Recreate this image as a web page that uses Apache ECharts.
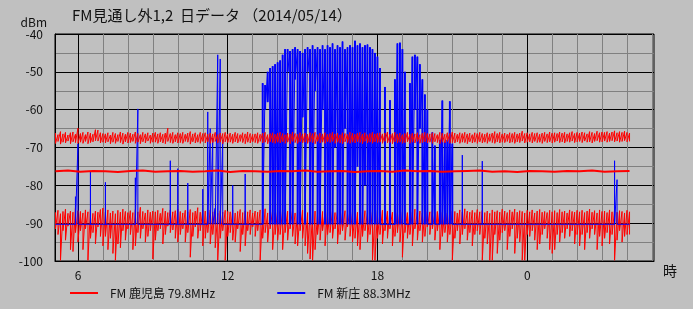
<!DOCTYPE html>
<html><head><meta charset="utf-8">
<script src="https://cdn.jsdelivr.net/npm/echarts@6/dist/echarts.min.js"></script>
<style>html,body{margin:0;padding:0;background:#c0c0c0;}#c{width:693px;height:309px;}</style>
</head><body><div id="c"></div>
<script>
// sampling grid (hours; values past 24 are the next day)
const startHour = 5.1, stepHour = 0.1;
const midStartHour = 5.1, midStepHour = 0.5;
const xLabelHours = [6, 12, 18, 24];
const xGridHours = [6,7,8,9,10,11,12,13,14,15,16,17,18,19,20,21,22,23,24,25,26,27,28,29];
const seriesNames = ['FM 鹿児島 79.8MHz', 'FM 新庄 88.3MHz'];
// strong-reception period of FM 新庄 (hours): fast fading, drawn as filled min-max columns
const denseFromHour = 13.4, denseToHour = 21.0;

// FM 鹿児島 upper band (max / min per sample)
const redTopHi = [
-66.2,-66.6,-65.8,-66.4,-66.0,-66.7,-66.1,-65.9,-66.5,-64.9,
-66.3,-66.0,-66.6,-65.9,-66.2,-66.5,-65.3,-65.4,-66.1,-66.3,
-66.4,-66.1,-66.7,-66.0,-66.3,-66.6,-65.9,-66.2,-66.5,-66.0,
-66.2,-66.5,-65.9,-66.3,-66.6,-66.0,-66.4,-66.1,-66.7,-66.2,
-66.0,-66.4,-66.1,-66.5,-66.2,-64.9,-66.3,-66.0,-66.6,-66.1,
-66.3,-66.0,-66.5,-66.2,-65.8,-66.4,-66.1,-66.6,-66.0,-66.3,
-66.1,-66.5,-66.2,-66.4,-66.0,-66.6,-66.2,-66.3,-66.0,-66.4,
-66.2,-66.5,-66.0,-66.3,-66.6,-66.1,-66.4,-65.9,-66.3,-66.5,
-66.4,-66.1,-66.5,-66.2,-66.0,-66.6,-66.3,-66.1,-66.5,-66.2,
-66.0,-66.3,-66.6,-66.2,-66.4,-65.9,-66.3,-66.5,-66.1,-66.4,
-66.2,-66.5,-66.1,-66.3,-66.0,-66.6,-66.2,-66.4,-66.1,-66.5,
-66.3,-66.0,-66.4,-66.2,-66.6,-66.1,-66.3,-66.5,-66.0,-66.2,
-66.5,-66.2,-66.0,-66.4,-66.1,-66.6,-66.3,-66.0,-66.4,-66.2,
-66.1,-66.4,-66.2,-65.9,-66.5,-66.3,-66.0,-66.4,-66.2,-66.6,
-66.3,-66.0,-66.5,-66.2,-66.4,-66.1,-66.6,-66.2,-66.0,-66.3,
-66.4,-66.1,-66.3,-66.6,-66.0,-66.2,-66.5,-66.1,-66.3,-65.9,
-66.2,-66.5,-66.1,-66.3,-66.0,-66.4,-66.2,-66.6,-66.1,-66.3,
-66.0,-66.3,-66.5,-66.1,-66.4,-66.2,-65.8,-66.3,-66.0,-66.4,
-66.2,-66.5,-66.1,-66.3,-66.0,-66.4,-66.2,-65.7,-66.3,-66.1,
-66.4,-66.0,-66.3,-66.1,-66.5,-66.2,-66.0,-66.4,-65.9,-66.2,
-66.1,-66.3,-65.9,-66.2,-66.0,-66.4,-66.1,-65.8,-66.3,-66.0,
-66.2,-65.9,-66.1,-66.4,-65.8,-66.0,-66.3,-65.7,-66.1,-65.9,
-66.0,-65.8,-66.2,-65.9,-65.6,-66.1,-65.8,-66.0,-65.7,-66.0,
-66.2];
const redTopLo = [
-68.9,-68.4,-69.1,-68.6,-68.8,-68.3,-69.0,-68.5,-68.7,-68.9,
-68.6,-68.9,-68.4,-69.0,-68.7,-68.5,-68.2,-68.3,-68.8,-68.6,
-68.8,-68.5,-69.0,-68.6,-68.9,-68.4,-68.7,-69.1,-68.5,-68.8,
-68.7,-68.4,-68.9,-68.6,-69.0,-68.5,-68.8,-68.3,-68.9,-68.6,
-68.6,-68.9,-68.5,-68.8,-69.0,-68.4,-68.7,-68.9,-68.5,-68.8,
-68.7,-68.9,-68.4,-68.6,-69.1,-68.5,-68.8,-68.6,-68.9,-68.4,
-68.8,-68.5,-68.9,-68.7,-68.4,-68.8,-68.6,-69.0,-68.5,-68.7,
-68.6,-68.9,-68.5,-68.8,-68.4,-68.7,-69.0,-68.6,-68.8,-68.5,
-68.7,-68.9,-68.4,-68.8,-68.6,-69.0,-68.5,-68.7,-68.9,-68.6,
-68.8,-68.5,-68.9,-68.6,-69.0,-68.4,-68.7,-68.9,-68.5,-68.8,
-68.6,-68.9,-68.5,-68.7,-69.0,-68.4,-68.8,-68.6,-68.9,-68.5,
-68.7,-68.4,-68.9,-68.6,-68.8,-69.0,-68.5,-68.7,-68.9,-68.6,
-68.8,-68.5,-68.7,-69.0,-68.4,-68.8,-68.6,-68.9,-68.5,-68.7,
-68.6,-68.9,-68.4,-68.8,-68.7,-69.0,-68.5,-68.8,-68.6,-68.9,
-68.7,-68.5,-68.9,-68.6,-68.8,-68.4,-68.9,-68.7,-68.5,-68.8,
-68.6,-68.9,-68.5,-68.7,-69.0,-68.6,-68.8,-68.4,-68.9,-68.7,
-68.8,-68.5,-68.9,-68.6,-68.7,-69.0,-68.5,-68.8,-68.6,-68.9,
-68.5,-68.8,-68.6,-68.9,-68.4,-68.7,-68.9,-68.5,-68.8,-68.6,
-68.7,-68.4,-68.8,-68.6,-68.9,-68.5,-68.7,-68.3,-68.8,-68.6,
-68.5,-68.8,-68.4,-68.7,-68.6,-68.9,-68.4,-68.7,-68.5,-68.8,
-68.6,-68.3,-68.7,-68.5,-68.8,-68.4,-68.6,-68.3,-68.7,-68.5,
-68.4,-68.7,-68.3,-68.6,-68.5,-68.8,-68.4,-68.2,-68.6,-68.5,
-68.3,-68.6,-68.4,-68.2,-68.5,-68.3,-68.6,-68.4,-68.2,-68.5,
-68.4];

// FM 鹿児島 middle trace (every 0.5 h)
const redMid = [
-76.3,-76.1,-76.4,-76.2,-76.3,-76.5,-76.2,-76.1,-76.4,-76.3,
-76.2,-76.4,-76.3,-76.1,-76.5,-76.2,-76.3,-76.4,-76.2,-76.3,
-76.1,-76.4,-76.3,-76.2,-76.5,-76.3,-76.2,-76.4,-76.1,-76.3,
-76.2,-76.4,-76.3,-76.2,-76.1,-76.4,-76.3,-76.5,-76.2,-76.3,
-76.4,-76.2,-76.3,-76.1,-76.4,-76.3,-76.2];

// FM 鹿児島 lower band (max / min per sample)
const redBotHi = [
-87.2,-86.6,-87.5,-86.9,-86.3,-87.4,-86.8,-87.1,-85.9,-86.7,
-86.9,-87.3,-86.5,-87.0,-86.2,-87.4,-86.8,-87.1,-86.4,-86.0,
-87.0,-86.5,-87.3,-86.8,-87.5,-86.6,-87.1,-86.3,-86.9,-87.2,
-86.7,-87.2,-86.4,-87.0,-85.8,-86.9,-87.3,-86.5,-87.1,-86.8,
-87.0,-86.6,-87.4,-86.1,-86.8,-87.2,-86.5,-87.0,-86.7,-86.3,
-86.9,-87.3,-86.6,-87.0,-86.4,-87.2,-86.8,-85.9,-87.1,-86.5,
-86.8,-87.2,-86.5,-87.0,-86.3,-87.4,-86.7,-87.1,-86.6,-86.9,
-87.0,-86.6,-87.3,-86.9,-86.4,-87.2,-86.7,-87.0,-86.5,-87.3,
-86.8,-87.1,-86.5,-87.0,-86.2,-87.3,-86.9,-86.6,-87.2,-86.7,
-86.9,-86.5,-87.2,-86.8,-87.0,-86.4,-87.3,-86.7,-87.1,-86.6,
-86.7,-87.2,-86.5,-87.0,-86.8,-87.3,-86.4,-86.9,-87.1,-86.6,
-87.0,-86.6,-87.2,-86.8,-86.3,-87.1,-86.7,-87.3,-86.5,-86.9,
-86.8,-87.1,-86.5,-87.0,-86.7,-87.2,-86.4,-86.9,-87.3,-86.6,
-87.0,-86.6,-87.3,-86.8,-86.4,-87.1,-86.9,-87.2,-86.5,-87.0,
-86.7,-87.2,-86.5,-87.0,-86.3,-87.1,-86.8,-87.3,-86.6,-86.9,
-87.0,-86.6,-87.2,-86.9,-86.4,-87.1,-86.7,-87.3,-86.5,-86.8,
-86.9,-87.3,-86.5,-87.0,-86.2,-86.8,-87.1,-86.6,-87.2,-86.4,
-87.0,-86.6,-87.2,-86.8,-87.4,-86.5,-87.0,-86.7,-87.1,-86.3,
-86.8,-87.2,-86.5,-87.0,-86.3,-87.1,-86.7,-86.9,-87.3,-86.6,
-87.0,-86.5,-87.3,-86.8,-86.4,-87.1,-86.9,-87.2,-86.6,-87.0,
-86.7,-87.2,-86.4,-87.0,-86.8,-87.3,-86.5,-86.9,-87.1,-86.6,
-87.0,-86.6,-87.2,-86.8,-86.3,-87.1,-86.7,-87.3,-86.5,-86.9,
-86.8,-87.2,-86.5,-87.0,-86.4,-87.1,-86.7,-86.9,-87.3,-86.6,
-87.0];
const redBotLo = [
-91.5,-93.0,-99.8,-92.0,-94.5,-90.8,-97.0,-97.5,-92.5,-95.0,
-92.0,-97.0,-91.5,-99.8,-94.0,-92.5,-95.5,-91.0,-93.5,-96.0,
-93.5,-97.0,-94.0,-98.0,-99.8,-95.5,-96.5,-92.0,-94.5,-91.5,
-93.0,-97.0,-96.0,-92.5,-94.0,-91.5,-95.0,-93.5,-92.0,-99.5,
-94.5,-92.0,-91.5,-95.5,-93.0,-90.8,-92.5,-91.8,-94.0,-95.0,
-93.0,-91.5,-95.0,-92.5,-99.0,-93.5,-91.0,-94.0,-92.0,-96.0,
-94.0,-92.5,-95.5,-93.0,-96.5,-99.8,-94.0,-92.0,-99.8,-93.5,
-92.5,-94.5,-95.0,-91.5,-97.5,-93.0,-96.0,-92.0,-93.0,-91.0,
-93.5,-92.0,-99.8,-94.0,-92.5,-95.0,-91.5,-97.0,-93.0,-94.5,
-93.0,-97.0,-92.5,-94.5,-91.5,-93.5,-95.5,-96.0,-92.0,-94.0,
-96.0,-98.0,-99.5,-99.8,-97.0,-93.0,-94.5,-92.0,-96.0,-93.0,
-92.5,-94.0,-91.5,-95.5,-93.0,-92.0,-94.5,-91.0,-93.5,-95.0,
-94.0,-96.0,-97.0,-93.5,-92.0,-95.0,-93.0,-99.8,-99.8,-94.0,
-93.0,-95.5,-92.0,-94.0,-91.5,-96.0,-93.5,-92.5,-95.0,-99.0,
-92.5,-94.0,-93.0,-96.0,-91.5,-94.5,-92.0,-95.0,-93.5,-91.0,
-93.0,-91.5,-94.5,-92.0,-97.0,-93.5,-92.5,-95.0,-93.0,-99.8,
-94.0,-92.0,-95.5,-93.0,-91.5,-94.5,-92.5,-96.0,-93.0,-92.0,
-93.0,-99.8,-94.0,-95.5,-99.8,-99.8,-93.0,-98.0,-94.5,-92.5,
-92.0,-97.0,-93.5,-91.5,-98.0,-94.0,-95.0,-99.8,-99.8,-93.0,
-93.5,-92.0,-94.5,-97.0,-95.5,-93.0,-91.5,-94.0,-97.0,-98.0,
-97.0,-93.0,-95.0,-92.5,-94.0,-91.5,-93.5,-92.0,-95.5,-93.0,
-96.0,-93.0,-97.0,-92.5,-94.0,-91.5,-93.0,-97.0,-93.5,-96.0,
-94.0,-92.5,-95.5,-93.0,-99.8,-94.5,-92.0,-95.0,-93.5,-93.0,
-93.0];

// FM 新庄 (max / min per sample)
const blueHi = [
-90.3,-90.3,-90.3,-90.3,-90.3,-90.3,-90.3,-90.3,-83,-69,
-90.3,-90.3,-90.3,-90.3,-76.5,-90.3,-90.3,-90.3,-90.3,-90.3,
-79.2,-90.3,-90.3,-90.3,-90.3,-90.3,-90.3,-90.3,-90.3,-90.3,
-90.3,-90.3,-78,-59.8,-90.3,-90.3,-90.3,-90.3,-90.3,-90.3,
-90.3,-90.3,-90.3,-90.3,-90.3,-90.3,-73.5,-90.3,-90.3,-75.6,
-90.3,-90.3,-90.3,-79.4,-90.3,-90.3,-90.3,-90.3,-90.3,-81,
-90.3,-60.6,-65,-67.5,-86,-45.5,-46.6,-68,-90.3,-90.3,
-90.3,-80,-90.3,-90.3,-90.3,-90.3,-77,-90.3,-90.3,-90.3,
-90.3,-90.3,-90.3,-53,-53.5,-50,-49,-48.5,-48,-47.5,
-47,-45.5,-44,-44,-44.5,-44,-43.5,-44,-44.5,-45,
-44,-43.5,-44,-43,-44,-43.5,-44,-43,-44,-43,
-43.5,-42.5,-44,-43,-43.5,-42,-44,-43.5,-43,-43.5,
-41.8,-43,-42.5,-43.5,-43,-42.8,-43.5,-44,-45,-46,
-49,-90.3,-54,-90.3,-57.5,-90.3,-52,-42.5,-42.3,-44,
-50,-90.3,-53,-46,-45.5,-46,-48,-52,-56,-60,
-90.3,-66,-69.5,-90.3,-68,-57.6,-68.5,-68,-57.8,-69,
-90.3,-90.3,-90.3,-72,-90.3,-90.3,-90.3,-90.3,-90.3,-90.3,
-90.3,-73.6,-90.3,-90.3,-90.3,-90.3,-90.3,-90.3,-90.3,-90.3,
-90.3,-90.3,-90.3,-90.3,-90.3,-90.3,-90.3,-90.3,-90.3,-90.3,
-90.3,-90.3,-90.3,-90.3,-90.3,-90.3,-90.3,-90.3,-90.3,-90.3,
-90.3,-90.3,-90.3,-90.3,-90.3,-90.3,-90.3,-90.3,-90.3,-90.3,
-90.3,-90.3,-90.3,-90.3,-90.3,-90.3,-90.3,-90.3,-90.3,-90.3,
-90.3,-90.3,-90.3,-90.3,-73.5,-78.5,-90.3,-90.3,-90.3,-90.3,
-90.3];
const blueLo = [
-90.3,-90.3,-90.3,-90.3,-90.3,-90.3,-90.3,-90.3,-90.3,-90.3,
-90.3,-90.3,-90.3,-90.3,-90.3,-90.3,-90.3,-90.3,-90.3,-90.3,
-90.3,-90.3,-90.3,-90.3,-90.3,-90.3,-90.3,-90.3,-90.3,-90.3,
-90.3,-90.3,-90.3,-90.3,-90.3,-90.3,-90.3,-90.3,-90.3,-90.3,
-90.3,-90.3,-90.3,-90.3,-90.3,-90.3,-90.3,-90.3,-90.3,-90.3,
-90.3,-90.3,-90.3,-90.3,-90.3,-90.3,-90.3,-90.3,-90.3,-90.3,
-90.3,-90.3,-90.3,-90.3,-90.3,-90.3,-90.3,-90.3,-90.3,-90.3,
-90.3,-90.3,-90.3,-90.3,-90.3,-90.3,-90.3,-90.3,-90.3,-90.3,
-90.3,-90.3,-90.3,-90.3,-60,-58,-90.3,-90.3,-90.3,-90.3,
-90.3,-90.3,-90.3,-50,-90.3,-90.3,-52,-90.3,-90.3,-62,
-90.3,-50,-90.3,-90.3,-55,-90.3,-90.3,-60,-90.3,-90.3,
-90.3,-90.3,-70,-90.3,-90.3,-90.3,-65,-90.3,-90.3,-90.3,
-90.3,-75,-90.3,-90.3,-80,-90.3,-90.3,-90.3,-90.3,-90.3,
-90.3,-90.3,-90.3,-90.3,-90.3,-90.3,-90.3,-90.3,-90.3,-90.3,
-90.3,-90.3,-90.3,-90.3,-60,-90.3,-65,-90.3,-90.3,-90.3,
-90.3,-90.3,-90.3,-90.3,-90.3,-90.3,-90.3,-90.3,-90.3,-90.3,
-90.3,-90.3,-90.3,-90.3,-90.3,-90.3,-90.3,-90.3,-90.3,-90.3,
-90.3,-90.3,-90.3,-90.3,-90.3,-90.3,-90.3,-90.3,-90.3,-90.3,
-90.3,-90.3,-90.3,-90.3,-90.3,-90.3,-90.3,-90.3,-90.3,-90.3,
-90.3,-90.3,-90.3,-90.3,-90.3,-90.3,-90.3,-90.3,-90.3,-90.3,
-90.3,-90.3,-90.3,-90.3,-90.3,-90.3,-90.3,-90.3,-90.3,-90.3,
-90.3,-90.3,-90.3,-90.3,-90.3,-90.3,-90.3,-90.3,-90.3,-90.3,
-90.3,-90.3,-90.3,-90.3,-90.3,-90.3,-90.3,-90.3,-90.3,-90.3,
-90.3];

// min/max envelope polyline (zig-zag max -> min -> next max ...)
function envelope(hi, lo, t0, dt) {
  const out = [];
  for (let i = 0; i < hi.length; i++) {
    const t = +(t0 + i * dt).toFixed(3);
    const flat = hi[i] === lo[i];
    const prevFlat = i === 0 || hi[i - 1] === lo[i - 1];
    if (!flat && prevFlat) out.push([t, lo[i]]);
    out.push([t, hi[i]]);
    if (!flat) out.push([t, lo[i]]);
  }
  return out;
}
// [t, min, max] rows for the filled columns of the fast-fading span
function columns(hi, lo, t0, dt, fromH, toH) {
  const out = [];
  for (let i = 0; i < hi.length; i++) {
    const t = +(t0 + i * dt).toFixed(3);
    if (t >= fromH - 1e-6 && t <= toH + 1e-6 && hi[i] !== lo[i]) out.push([t, lo[i], hi[i]]);
  }
  return out;
}
function simple(vals, t0, dt) {
  return vals.map((v, i) => [+(t0 + i * dt).toFixed(3), v]);
}

const FONT = '"Noto Sans CJK JP", "DejaVu Sans", sans-serif';
const chart = echarts.init(document.getElementById('c'), null, {renderer: 'canvas'});
const lineS = (name, z, data, color, width) => ({
  name, type: 'line', z, showSymbol: false, silent: true, data,
  itemStyle: {color}, lineStyle: {color, width}
});
chart.setOption({
  backgroundColor: '#c0c0c0',
  animation: false,
  textStyle: {fontFamily: FONT},
  title: {
    text: 'FM見通し外1,2  日データ （2014/05/14）',
    left: 67, top: 3,
    textStyle: {fontSize: 15, fontWeight: 'normal', color: '#111', fontFamily: FONT}
  },
  legend: {
    data: [{name: seriesNames[0], itemStyle: {color: '#ff0000'}},
           {name: seriesNames[1], itemStyle: {color: '#0000ff'}}],
    left: 65, top: 282,
    icon: 'rect', itemWidth: 28, itemHeight: 2, itemGap: 62,
    textStyle: {fontSize: 12, color: '#111', fontFamily: FONT, padding: [0, 0, 0, 7]}
  },
  grid: {
    left: 55, right: 39, top: 34, bottom: 48,
    show: true, borderColor: '#000', borderWidth: 1, backgroundColor: 'transparent'
  },
  xAxis: {
    type: 'value', min: 5.08, max: 29.08,
    name: '時', nameLocation: 'end', nameGap: 9,
    nameTextStyle: {fontSize: 14, color: '#111', verticalAlign: 'top', padding: [3, 0, 0, 0]},
    axisLine: {show: true, lineStyle: {color: '#000', width: 1}},
    axisTick: {show: false, customValues: xGridHours},
    axisLabel: {customValues: xLabelHours, formatter: v => String(Math.round(v) % 24),
                fontSize: 12, color: '#111', margin: 8},
    splitLine: {show: true, lineStyle: {width: 1,
      color: ['#000', '#808080', '#808080', '#808080', '#808080', '#808080']}}
  },
  yAxis: {
    type: 'value', min: -100, max: -40, interval: 10,
    name: 'dBm', nameLocation: 'end', nameGap: 6,
    nameTextStyle: {fontSize: 12, color: '#111', align: 'right', padding: [0, 8, 0, 0]},
    axisLine: {show: true, lineStyle: {color: '#000', width: 1}},
    axisTick: {show: false},
    axisLabel: {fontSize: 12, color: '#111', margin: 12},
    splitLine: {show: true, lineStyle: {color: '#000', width: 1}},
    minorTick: {show: false, splitNumber: 2},
    minorSplitLine: {show: true, lineStyle: {color: '#808080', width: 1}}
  },
  series: [
    lineS(seriesNames[0], 2, envelope(redBotHi, redBotLo, startHour, stepHour), '#ff0000', 1),
    lineS(seriesNames[1], 3, envelope(blueHi, blueLo, startHour, stepHour), '#0000ff', 1),
    {
      name: seriesNames[1], type: 'custom', z: 3, silent: true,
      data: columns(blueHi, blueLo, startHour, stepHour, denseFromHour, denseToHour),
      encode: {x: 0, y: [1, 2]},
      itemStyle: {color: '#0000ff'},
      renderItem: function (params, api) {
        const t = api.value(0), lo = api.value(1), hi = api.value(2);
        const pTop = api.coord([t, hi]);
        const pBot = api.coord([t, lo]);
        const w = api.size([stepHour, 0])[0] * 0.75;
        return {
          type: 'rect',
          shape: {x: pTop[0] - w / 2, y: pTop[1], width: w, height: pBot[1] - pTop[1]},
          style: {fill: '#0000ff'}
        };
      }
    },
    lineS(seriesNames[0], 4, envelope(redTopHi, redTopLo, startHour, stepHour), '#ff0000', 1),
    lineS(seriesNames[0], 4, simple(redMid, midStartHour, midStepHour), '#ff0000', 2)
  ]
});
</script></body></html>
